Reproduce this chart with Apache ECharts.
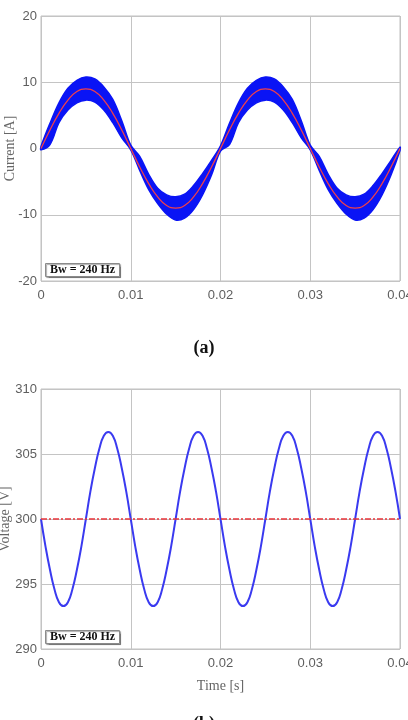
<!DOCTYPE html>
<html>
<head>
<meta charset="utf-8">
<script src="https://cdn.jsdelivr.net/npm/echarts@6/dist/echarts.min.js"></script>
<style>
  html, body { margin: 0; padding: 0; background: #fff; }
  #main { width: 408px; height: 720px; }
</style>
</head>
<body>
<div id="main"></div>
<script>
// (a) current, sampled every 1 ms
var timeCur = [0, 0.001, 0.002, 0.003, 0.004, 0.005, 0.006, 0.007, 0.008, 0.009,
    0.010, 0.011, 0.012, 0.013, 0.014, 0.015, 0.016, 0.017, 0.018, 0.019,
    0.020, 0.021, 0.022, 0.023, 0.024, 0.025, 0.026, 0.027, 0.028, 0.029,
    0.030, 0.031, 0.032, 0.033, 0.034, 0.035, 0.036, 0.037, 0.038, 0.039, 0.040];
var refCur = [0, 2.8, 5.3, 7.3, 8.6, 9.0, 8.6, 7.3, 5.3, 2.8,
    0, -2.8, -5.3, -7.3, -8.6, -9.0, -8.6, -7.3, -5.3, -2.8,
    0, 2.8, 5.3, 7.3, 8.6, 9.0, 8.6, 7.3, 5.3, 2.8,
    0, -2.8, -5.3, -7.3, -8.6, -9.0, -8.6, -7.3, -5.3, -2.8, 0];
var upperCur = [0.3, 3.8, 6.9, 9.1, 10.3, 10.8, 10.5, 9.3, 7.4, 4.2,
    0.5, -1.2, -3.9, -6.0, -7.0, -7.3, -6.9, -5.6, -3.8, -1.8,
    0.4, 3.8, 6.9, 9.1, 10.3, 10.8, 10.5, 9.3, 7.4, 4.2,
    0.5, -1.2, -3.9, -6.0, -7.0, -7.3, -6.9, -5.6, -3.8, -1.8, 0.2];
var lowerCur = [-0.2, 0.6, 3.9, 5.8, 6.9, 7.3, 7.0, 5.8, 3.9, 1.6,
    -0.2, -3.3, -6.2, -8.3, -9.9, -10.8, -10.5, -9.2, -7.0, -4.0,
    -0.4, 0.6, 3.9, 5.8, 6.9, 7.3, 7.0, 5.8, 3.9, 1.6,
    -0.2, -3.3, -6.2, -8.3, -9.9, -10.8, -10.5, -9.2, -7.0, -4.0, -0.3];

// (b) voltage, sampled every 0.5 ms
var timeVol = [0, 0.0005, 0.001, 0.0015, 0.002, 0.0025, 0.003, 0.0035, 0.004, 0.0045,
    0.005, 0.0055, 0.006, 0.0065, 0.007, 0.0075, 0.008, 0.0085, 0.009, 0.0095,
    0.010, 0.0105, 0.011, 0.0115, 0.012, 0.0125, 0.013, 0.0135, 0.014, 0.0145,
    0.015, 0.0155, 0.016, 0.0165, 0.017, 0.0175, 0.018, 0.0185, 0.019, 0.0195,
    0.020, 0.0205, 0.021, 0.0215, 0.022, 0.0225, 0.023, 0.0235, 0.024, 0.0245,
    0.025, 0.0255, 0.026, 0.0265, 0.027, 0.0275, 0.028, 0.0285, 0.029, 0.0295,
    0.030, 0.0305, 0.031, 0.0315, 0.032, 0.0325, 0.033, 0.0335, 0.034, 0.0345,
    0.035, 0.0355, 0.036, 0.0365, 0.037, 0.0375, 0.038, 0.0385, 0.039, 0.0395, 0.040];
var voltage = [300, 297.9, 296.1, 294.6, 293.6, 293.3, 293.6, 294.6, 296.1, 297.9,
    300, 302.1, 303.9, 305.4, 306.4, 306.7, 306.4, 305.4, 303.9, 302.1,
    300, 297.9, 296.1, 294.6, 293.6, 293.3, 293.6, 294.6, 296.1, 297.9,
    300, 302.1, 303.9, 305.4, 306.4, 306.7, 306.4, 305.4, 303.9, 302.1,
    300, 297.9, 296.1, 294.6, 293.6, 293.3, 293.6, 294.6, 296.1, 297.9,
    300, 302.1, 303.9, 305.4, 306.4, 306.7, 306.4, 305.4, 303.9, 302.1,
    300, 297.9, 296.1, 294.6, 293.6, 293.3, 293.6, 294.6, 296.1, 297.9,
    300, 302.1, 303.9, 305.4, 306.4, 306.7, 306.4, 305.4, 303.9, 302.1, 300];
var refVolTime = [0, 0.04];
var refVol = [300, 300];

var xTicks = ['0', '0.01', '0.02', '0.03', '0.04'];

function pairs(xs, ys) {
    return xs.map(function (x, i) { return [x, ys[i]]; });
}

// band of the switching ripple: upper edge forward, lower edge back
var bandData = timeCur.map(function (t, i) { return [t, lowerCur[i], upperCur[i]]; });

function renderBand(params, api) {
    if (params.dataIndex !== 0) return null;
    var top = [], bottom = [];
    for (var i = 0; i < timeCur.length; i++) {
        top.push(api.coord([timeCur[i], upperCur[i]]));
        bottom.push(api.coord([timeCur[i], lowerCur[i]]));
    }
    var pts = top.concat(bottom.reverse());
    return {
        type: 'polygon',
        shape: { points: pts, smooth: 0.35 },
        style: { fill: '#0a14f5', stroke: '#0a14f5', lineWidth: 1.5 }
    };
}

var tickFont = { fontFamily: 'Liberation Sans', fontSize: 13, color: '#5e5e5e' };
var nameFont = { fontFamily: 'Liberation Serif', fontSize: 14, color: '#666' };
var gridLine = { show: true, lineStyle: { color: '#c4c4c4', width: 1 } };

function xAxisCfg(idx, name) {
    return {
        gridIndex: idx, type: 'value', min: 0, max: 0.04, interval: 0.01,
        axisLine: { show: false }, axisTick: { show: false },
        splitLine: gridLine,
        axisLabel: Object.assign({ margin: 8, showMaxLabel: true, formatter: function (v) {
            return xTicks[Math.round(v / 0.01)];
        } }, tickFont),
        name: name, nameLocation: 'middle', nameGap: 30, nameTextStyle: nameFont
    };
}

function bwBox(top) {
    return {
        text: 'Bw = 240 Hz', left: 45, top: top,
        padding: [1, 5, 1, 5],
        backgroundColor: '#fff', borderColor: '#8a8a8a', borderWidth: 1,
        shadowColor: 'rgba(0,0,0,0.35)', shadowOffsetX: 1, shadowOffsetY: 1, shadowBlur: 1,
        textStyle: { fontFamily: 'Liberation Serif', fontWeight: 'bold', fontSize: 12, color: '#111' }
    };
}

var option = {
    animation: false,
    backgroundColor: '#fff',
    title: [
        bwBox(263),
        bwBox(630),
        { text: '(a)', left: 'center', top: 339, padding: 0,
          textStyle: { fontFamily: 'Liberation Serif', fontWeight: 'bold', fontSize: 18, color: '#111' } },
        { text: '(b)', left: 'center', top: 715, padding: 0,
          textStyle: { fontFamily: 'Liberation Serif', fontWeight: 'bold', fontSize: 18, color: '#111' } }
    ],
    grid: [
        { left: 41, width: 359, top: 16, height: 265, show: true, borderColor: '#c0c0c0', borderWidth: 1,
          outerBoundsMode: 'none', containLabel: false },
        { left: 41, width: 359, top: 389, height: 260, show: true, borderColor: '#c0c0c0', borderWidth: 1,
          outerBoundsMode: 'none', containLabel: false }
    ],
    xAxis: [xAxisCfg(0, ''), xAxisCfg(1, 'Time [s]')],
    yAxis: [
        { gridIndex: 0, type: 'value', min: -20, max: 20, interval: 10,
          axisLine: { show: false }, axisTick: { show: false }, splitLine: gridLine,
          axisLabel: Object.assign({ margin: 4 }, tickFont),
          name: 'Current [A]', nameLocation: 'middle', nameGap: 24, nameMoveOverlap: false,
          nameTextStyle: nameFont },
        { gridIndex: 1, type: 'value', min: 290, max: 310, interval: 5,
          axisLine: { show: false }, axisTick: { show: false }, splitLine: gridLine,
          axisLabel: Object.assign({ margin: 4 }, tickFont),
          name: 'Voltage [V]', nameLocation: 'middle', nameGap: 29, nameMoveOverlap: false,
          nameTextStyle: nameFont }
    ],
    series: [
        { type: 'custom', xAxisIndex: 0, yAxisIndex: 0, data: bandData,
          encode: { x: 0, y: [1, 2] }, renderItem: renderBand, z: 2 },
        { type: 'line', xAxisIndex: 0, yAxisIndex: 0, data: pairs(timeCur, refCur),
          smooth: true, showSymbol: false, z: 3,
          lineStyle: { color: '#f0404a', width: 1.3 } },
        { type: 'line', xAxisIndex: 1, yAxisIndex: 1, data: pairs(timeVol, voltage),
          smooth: true, showSymbol: false,
          lineStyle: { color: '#3a3af0', width: 2 } },
        { type: 'line', xAxisIndex: 1, yAxisIndex: 1, data: pairs(refVolTime, refVol),
          showSymbol: false,
          lineStyle: { color: '#e8343a', width: 1.5, type: [6, 2, 2, 2] } }
    ]
};

var myChart = echarts.init(document.getElementById('main'));
myChart.setOption(option);
</script>
</body>
</html>
